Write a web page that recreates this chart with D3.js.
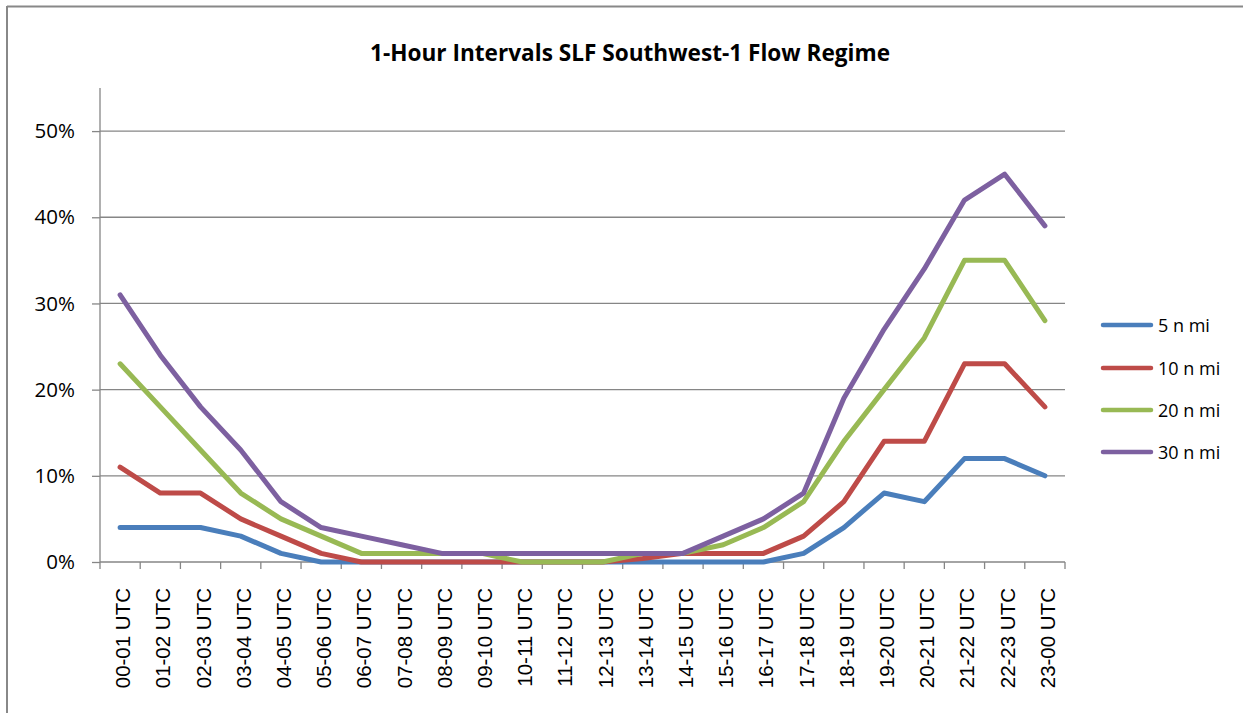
<!DOCTYPE html>
<html>
<head>
<meta charset="utf-8">
<script src="https://cdn.jsdelivr.net/npm/d3@7"></script>
<style>
  body { margin: 0; background: #fff; }
  svg { display: block; }
  text { font-family: "Open Sans", "Liberation Sans", sans-serif; fill: #000; }
</style>
</head>
<body>
<div id="chart"></div>
<script>
var categories = ["00-01 UTC","01-02 UTC","02-03 UTC","03-04 UTC","04-05 UTC","05-06 UTC",
  "06-07 UTC","07-08 UTC","08-09 UTC","09-10 UTC","10-11 UTC","11-12 UTC",
  "12-13 UTC","13-14 UTC","14-15 UTC","15-16 UTC","16-17 UTC","17-18 UTC",
  "18-19 UTC","19-20 UTC","20-21 UTC","21-22 UTC","22-23 UTC","23-00 UTC"];

var nmi5  = [4,4,4,3,1,0,0,0,0,0,0,0,0,0,0,0,0,1,4,8,7,12,12,10];
var nmi10 = [11,8,8,5,3,1,0,0,0,0,0,0,0,0.4,1,1,1,3,7,14,14,23,23,18];
var nmi20 = [23,18,13,8,5,3,1,1,1,1,0,0,0,1,1,2,4,7,14,20,26,35,35,28];
var nmi30 = [31,24,18,13,7,4,3,2,1,1,1,1,1,1,1,3,5,8,19,27,34,42,45,39];

var seriesNames = ["5 n mi", "10 n mi", "20 n mi", "30 n mi"];
var colors = ["#4a7ebb", "#be4b48", "#98b954", "#7d60a0"];
var yTicks = [0, 10, 20, 30, 40, 50];

var series = [nmi5, nmi10, nmi20, nmi30].map(function(v, i) {
  return { name: seriesNames[i], color: colors[i], values: v };
});

var width = 1243, height = 713;
// plot area edges (note: "top" would clash with window.top)
var pLeft = 100, pRight = 1065, pTop = 88, pBottom = 562;

var svg = d3.select("#chart").append("svg")
    .attr("width", width)
    .attr("height", height);

// chart frame (only top and left edges are visible in the crop)
svg.append("line").attr("x1", 7).attr("x2", width).attr("y1", 6.5).attr("y2", 6.5)
    .attr("stroke", "#888").attr("stroke-width", 2);
svg.append("line").attr("x1", 7).attr("x2", 7).attr("y1", 6).attr("y2", height)
    .attr("stroke", "#888").attr("stroke-width", 2);

var x = d3.scaleBand().domain(categories).range([pLeft, pRight]);
var y = d3.scaleLinear().domain([0, 55]).range([pBottom, pTop]);

// gridlines
svg.append("g").selectAll("line")
  .data(yTicks.filter(function(d) { return d > 0; }))
  .enter().append("line")
    .attr("x1", pLeft).attr("x2", pRight)
    .attr("y1", function(d) { return y(d); })
    .attr("y2", function(d) { return y(d); })
    .attr("stroke", "#868686").attr("stroke-width", 1.3);

// y axis
var yAxis = svg.append("g")
    .attr("transform", "translate(" + pLeft + ",0)")
    .call(d3.axisLeft(y).tickValues(yTicks).tickSize(8).tickPadding(17)
      .tickFormat(function(d) { return d + "%"; }));
yAxis.select(".domain").attr("stroke", "#868686").attr("stroke-width", 1.3)
    .attr("d", "M0," + pTop + "V" + pBottom);
yAxis.selectAll(".tick line").attr("stroke", "#868686").attr("stroke-width", 1.3);
yAxis.selectAll(".tick text").attr("font-size", 20.5)
    .style("font-family", "'Open Sans', sans-serif");

// x axis: ticks at category boundaries
var xAxisG = svg.append("g").attr("transform", "translate(0," + pBottom + ")");
xAxisG.append("line").attr("x1", pLeft).attr("x2", pRight)
    .attr("stroke", "#868686").attr("stroke-width", 1.3);
xAxisG.selectAll("line.tk")
  .data(categories.concat(["end"]))
  .enter().append("line").attr("class", "tk")
    .attr("x1", function(d, i) { return pLeft + i * x.bandwidth(); })
    .attr("x2", function(d, i) { return pLeft + i * x.bandwidth(); })
    .attr("y1", 0).attr("y2", 7)
    .attr("stroke", "#868686").attr("stroke-width", 1.3);
xAxisG.selectAll("text")
  .data(categories)
  .enter().append("text")
    .attr("transform", function(d) {
      return "translate(" + (x(d) + x.bandwidth() / 2 + 10) + ",26) rotate(-90)";
    })
    .attr("text-anchor", "end")
    .attr("font-size", 20.5)
    .style("font-family", "'Liberation Sans', Arial, sans-serif")
    .text(function(d) { return d; });

// lines
var line = d3.line()
    .x(function(d, i) { return x(categories[i]) + x.bandwidth() / 2; })
    .y(function(d) { return y(d); });

svg.append("g").selectAll("path")
  .data(series)
  .enter().append("path")
    .attr("d", function(d) { return line(d.values); })
    .attr("fill", "none")
    .attr("stroke", function(d) { return d.color; })
    .attr("stroke-width", 5)
    .attr("stroke-linejoin", "round")
    .attr("stroke-linecap", "round");

// title
svg.append("text")
    .attr("x", 630).attr("y", 61)
    .attr("text-anchor", "middle")
    .attr("font-size", 24).attr("font-weight", "bold")
    .attr("textLength", 520).attr("lengthAdjust", "spacingAndGlyphs")
    .text("1-Hour Intervals SLF Southwest-1 Flow Regime");

// legend
var legend = svg.append("g").selectAll("g")
  .data(series)
  .enter().append("g")
    .attr("transform", function(d, i) { return "translate(1103," + [325, 368, 410, 452][i] + ")"; });
legend.append("line").attr("x1", 0).attr("x2", 48)
    .attr("stroke", function(d) { return d.color; })
    .attr("stroke-width", 4.5).attr("stroke-linecap", "round");
legend.append("text").attr("x", 55).attr("y", 6.5)
    .attr("font-size", 18)
    .text(function(d) { return d.name; });
</script>
</body>
</html>
